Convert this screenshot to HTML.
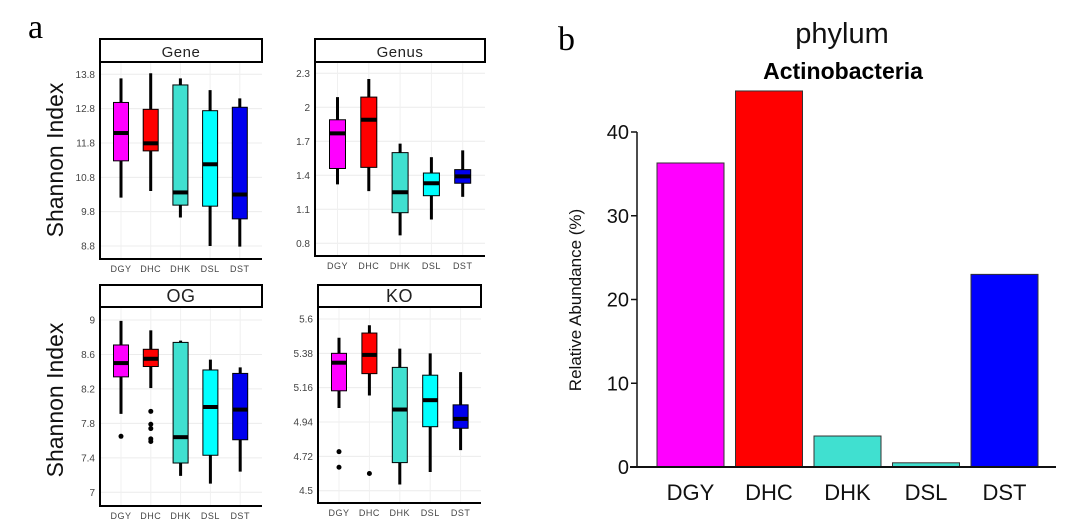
<!DOCTYPE html>
<html><head><meta charset="utf-8"><style>
html,body{margin:0;padding:0;background:#fff;width:1080px;height:527px;overflow:hidden}
svg{display:block}
text{font-family:"Liberation Sans",sans-serif}
</style></head><body>
<svg id="fig" width="1080" height="527" viewBox="0 0 1080 527">
<text x="28" y="38" font-size="34" style="font-family:'Liberation Serif',serif">a</text>
<text x="558" y="50" font-size="34" style="font-family:'Liberation Serif',serif">b</text>
<text transform="translate(63,160) rotate(-90)" text-anchor="middle" font-size="23" fill="#111">Shannon Index</text>
<text transform="translate(63,400) rotate(-90)" text-anchor="middle" font-size="23" fill="#111">Shannon Index</text>
<g id="boxes"></g>
<g id="bars"></g>
</svg>
<script>
const NS='http://www.w3.org/2000/svg';
const groups=['DGY','DHC','DHK','DSL','DST'];
// box stats: [whiskerTop, q3, median, q1, whiskerBottom]
const geneStats=[[13.68,12.98,12.09,11.28,10.21],[13.83,12.78,11.79,11.57,10.40],[13.68,13.49,10.36,9.99,9.63],[13.34,12.74,11.18,9.96,8.80],[13.10,12.84,10.30,9.59,8.78]];
const genusStats=[[2.09,1.89,1.77,1.46,1.32],[2.25,2.09,1.89,1.47,1.26],[1.68,1.60,1.25,1.07,0.87],[1.56,1.42,1.33,1.22,1.01],[1.62,1.45,1.39,1.33,1.21]];
const ogStats=[[8.99,8.71,8.50,8.34,7.91],[8.88,8.66,8.55,8.46,8.21],[8.76,8.74,7.64,7.34,7.19],[8.54,8.42,7.99,7.43,7.10],[8.45,8.38,7.96,7.61,7.24]];
const koStats=[[5.48,5.38,5.32,5.14,5.03],[5.56,5.51,5.37,5.25,5.11],[5.41,5.29,5.02,4.68,4.54],[5.38,5.24,5.08,4.91,4.62],[5.26,5.05,4.96,4.90,4.76]];
const ogOutliers=[[7.65],[7.94,7.79,7.74,7.62,7.59],[],[],[]];
const koOutliers=[[4.75,4.65],[4.61],[],[],[]];
const geneTicks=['8.8','9.8','10.8','11.8','12.8','13.8'];
const genusTicks=['0.8','1.1','1.4','1.7','2','2.3'];
const ogTicks=['7','7.4','7.8','8.2','8.6','9'];
const koTicks=['4.5','4.72','4.94','5.16','5.38','5.6'];
const boxColors=['#ff00ff','#ff0000','#40e0d0','#00ffff','#0000ee'];
const barValues=[36.3,44.9,3.7,0.5,23.0];
const barTicks=['0','10','20','30','40'];
const barColors=['#ff00ff','#ff0000','#40e0d0','#40e0d0','#0000ff'];

function el(tag,attrs,parent,txt){const e=document.createElementNS(NS,tag);for(const k in attrs)e.setAttribute(k,attrs[k]);if(txt!==undefined)e.textContent=txt;parent.appendChild(e);return e;}

const panels=[
 {name:'gene',title:'Gene',stats:geneStats,out:null,ticks:geneTicks,x0:100,x1:262,st:39,sb:62,pb:259,yb:246,yt:74.3,c0:121,step:29.7,bw:15},
 {name:'genus',title:'Genus',stats:genusStats,out:null,ticks:genusTicks,x0:315,x1:485,st:39,sb:62,pb:256,yb:243.3,yt:73.3,c0:337.5,step:31.3,bw:16},
 {name:'og',title:'OG',stats:ogStats,out:ogOutliers,ticks:ogTicks,x0:100,x1:262,st:285,sb:307,pb:506,yb:492.3,yt:320,c0:121,step:29.8,bw:15},
 {name:'ko',title:'KO',stats:koStats,out:koOutliers,ticks:koTicks,x0:318,x1:481,st:285,sb:307,pb:503,yb:490.7,yt:319,c0:339,step:30.4,bw:15}
];
const root=document.getElementById('boxes');
panels.forEach(p=>{
  const g=el('g',{},root);
  
  
  const lo=parseFloat(p.ticks[0]),hi=parseFloat(p.ticks[p.ticks.length-1]);
  const y=v=>p.yb-(v-lo)*(p.yb-p.yt)/(hi-lo);
  const x=i=>p.c0+i*p.step;
  p.ticks.forEach(t=>{const gl=el('line',{x1:p.x0,x2:p.x1,y1:y(parseFloat(t)),y2:y(parseFloat(t)),stroke:'#ececec','stroke-width':1},g);
    });
  groups.forEach((c,i)=>{el('line',{x1:x(i),x2:x(i),y1:p.sb,y2:p.pb,stroke:'#f0f0f0','stroke-width':1},g);});
  const s=el('rect',{x:p.x0,y:p.st,width:p.x1-p.x0,height:p.sb-p.st,fill:'#fff',stroke:'#000','stroke-width':2},g);
  
  const st=el('text',{x:(p.x0+p.x1)/2,y:p.sb-5,'text-anchor':'middle','font-size':p.title.length<3?18:15,fill:'#222','letter-spacing':'0.5'},g,p.title);
  
  const ax=el('path',{d:`M${p.x0},${p.sb} V${p.pb} H${p.x1}`,fill:'none',stroke:'#000','stroke-width':2},g);
  
  p.ticks.forEach(t=>{
    const tl=el('text',{x:p.x0-5,y:y(parseFloat(t))+3.5,'text-anchor':'end','font-size':10,fill:'#444'},g,t);
    
  });
  groups.forEach((c,i)=>{
    const d=p.stats[i],cx=x(i);
    const bg=el('g',{},g);
    
    
    el('line',{x1:cx,x2:cx,y1:y(d[0]),y2:y(d[4]),stroke:'#000','stroke-width':3},bg);
    el('rect',{x:cx-p.bw/2,y:y(d[1]),width:p.bw,height:y(d[3])-y(d[1]),fill:boxColors[i],stroke:'#000','stroke-width':1},bg);
    el('line',{x1:cx-p.bw/2,x2:cx+p.bw/2,y1:y(d[2]),y2:y(d[2]),stroke:'#000','stroke-width':4},bg);
    if(p.out){p.out[i].forEach(v=>{const o=el('circle',{cx:cx,cy:y(v),r:2.5,fill:'#000'},bg);
      });}
    const cl=el('text',{x:cx,y:p.pb+13,'text-anchor':'middle','font-size':9,fill:'#444','letter-spacing':'0.5'},g,c);
    
  });
});

const bg=document.getElementById('bars');
const y0=467,ytop=132,xa=637;
const by=v=>y0-(v-0)*(y0-ytop)/40;
const bx=i=>690.5+i*78.5;
const bw=67;
let t=el('text',{x:842,y:43,'text-anchor':'middle','font-size':29,fill:'#111'},bg,'phylum');

t=el('text',{x:843,y:79,'text-anchor':'middle','font-size':23,'font-weight':'bold',fill:'#000'},bg,'Actinobacteria');

t=el('text',{transform:'translate(581,300) rotate(-90)','text-anchor':'middle','font-size':17,fill:'#111'},bg,'Relative Abundance (%)');

barValues.forEach((v,i)=>{
  const r=el('rect',{x:bx(i)-bw/2,y:by(v),width:bw,height:y0-by(v),fill:barColors[i],stroke:'#333','stroke-width':1},bg);
  
  
  const l=el('text',{x:bx(i),y:500,'text-anchor':'middle','font-size':22,fill:'#111'},bg,groups[i]);
  
  
});
const yl=el('line',{x1:xa,x2:xa,y1:ytop,y2:y0,stroke:'#111','stroke-width':1.5},bg);

const xl=el('line',{x1:630,x2:1056,y1:y0,y2:y0,stroke:'#111','stroke-width':2},bg);

barTicks.forEach(tk=>{
  const yy=by(parseFloat(tk));
  el('line',{x1:xa-6,x2:xa,y1:yy,y2:yy,stroke:'#111','stroke-width':1.5},bg);
  const l=el('text',{x:xa-8,y:yy+7,'text-anchor':'end','font-size':20,fill:'#111'},bg,tk);
  
  
});
</script>
</body></html>
